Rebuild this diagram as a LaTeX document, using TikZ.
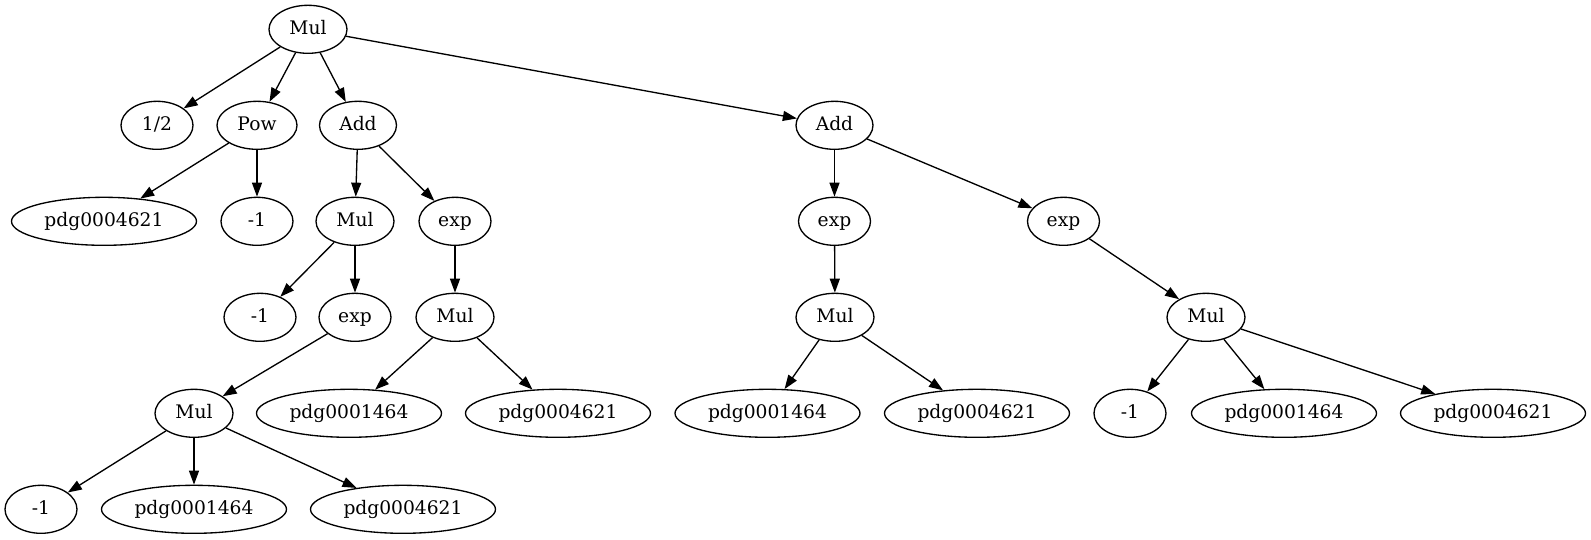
\documentclass[tikz,border=0pt]{standalone}
\usepackage{fontspec}
\setmainfont{DejaVu Serif}
\usetikzlibrary{shapes.geometric,arrows.meta}
\begin{document}
\begin{tikzpicture}[x=1pt,y=-1pt,
  nd/.style={ellipse,draw,line width=1.33pt,inner sep=0pt,minimum height=48pt,minimum width=72pt,text height=15pt,text depth=4pt,font=\fontsize{18.67}{22}\selectfont},
  wmul/.style={nd,minimum width=78pt},
  wpow/.style={nd,minimum width=80pt},
  wadd/.style={nd,minimum width=77pt},
  wpdg/.style={nd,minimum width=185pt},
  edge/.style={line width=1.33pt,-{Triangle[length=14pt,width=10pt]}}]
\useasboundingbox (0,0) rectangle (1591,539);
% rows
\node[wmul] (m0) at (308,29.3) {Mul};
\node[nd]   (h)  at (157,125.3) {1/2};
\node[wpow] (pw) at (257,125.3) {Pow};
\node[wadd] (a1) at (358,125.3) {Add};
\node[wadd] (a2) at (834.5,125.3) {Add};
\node[wpdg] (p1) at (104,221.3) {pdg0004621};
\node[nd]   (n1) at (257,221.3) {-1};
\node[wmul] (m1) at (355,221.3) {Mul};
\node[nd]   (e1) at (455,221.3) {exp};
\node[nd]   (e2) at (834.5,221.3) {exp};
\node[nd]   (e3) at (1063.5,221.3) {exp};
\node[nd]   (n2) at (260,317.3) {-1};
\node[nd]   (e4) at (355,317.3) {exp};
\node[wmul] (m2) at (455,317.3) {Mul};
\node[wmul] (m3) at (835,317.3) {Mul};
\node[wmul] (m4) at (1206,317.3) {Mul};
\node[wmul] (m5) at (194,413.3) {Mul};
\node[wpdg] (q1) at (349,413.3) {pdg0001464};
\node[wpdg] (q2) at (558,413.3) {pdg0004621};
\node[wpdg] (q3) at (767.5,413.3) {pdg0001464};
\node[wpdg] (q4) at (977,413.3) {pdg0004621};
\node[nd]   (n3) at (1130,413.3) {-1};
\node[wpdg] (q5) at (1284,413.3) {pdg0001464};
\node[wpdg] (q6) at (1493,413.3) {pdg0004621};
\node[nd]   (n4) at (41,509.3) {-1};
\node[wpdg] (q7) at (194,509.3) {pdg0001464};
\node[wpdg] (q8) at (403,509.3) {pdg0004621};
% edges
\draw[edge] (m0) -- (h);
\draw[edge] (m0) -- (pw);
\draw[edge] (m0) -- (a1);
\draw[edge] (m0) -- (a2);
\draw[edge] (pw) -- (p1);
\draw[edge] (pw) -- (n1);
\draw[edge] (a1) -- (m1);
\draw[edge] (a1) -- (e1);
\draw[edge] (a2) -- (e2);
\draw[edge] (a2) -- (e3);
\draw[edge] (m1) -- (n2);
\draw[edge] (m1) -- (e4);
\draw[edge] (e1) -- (m2);
\draw[edge] (e2) -- (m3);
\draw[edge] (e3) -- (m4);
\draw[edge] (e4) -- (m5);
\draw[edge] (m2) -- (q1);
\draw[edge] (m2) -- (q2);
\draw[edge] (m3) -- (q3);
\draw[edge] (m3) -- (q4);
\draw[edge] (m4) -- (n3);
\draw[edge] (m4) -- (q5);
\draw[edge] (m4) -- (q6);
\draw[edge] (m5) -- (n4);
\draw[edge] (m5) -- (q7);
\draw[edge] (m5) -- (q8);
\end{tikzpicture}
\end{document}
